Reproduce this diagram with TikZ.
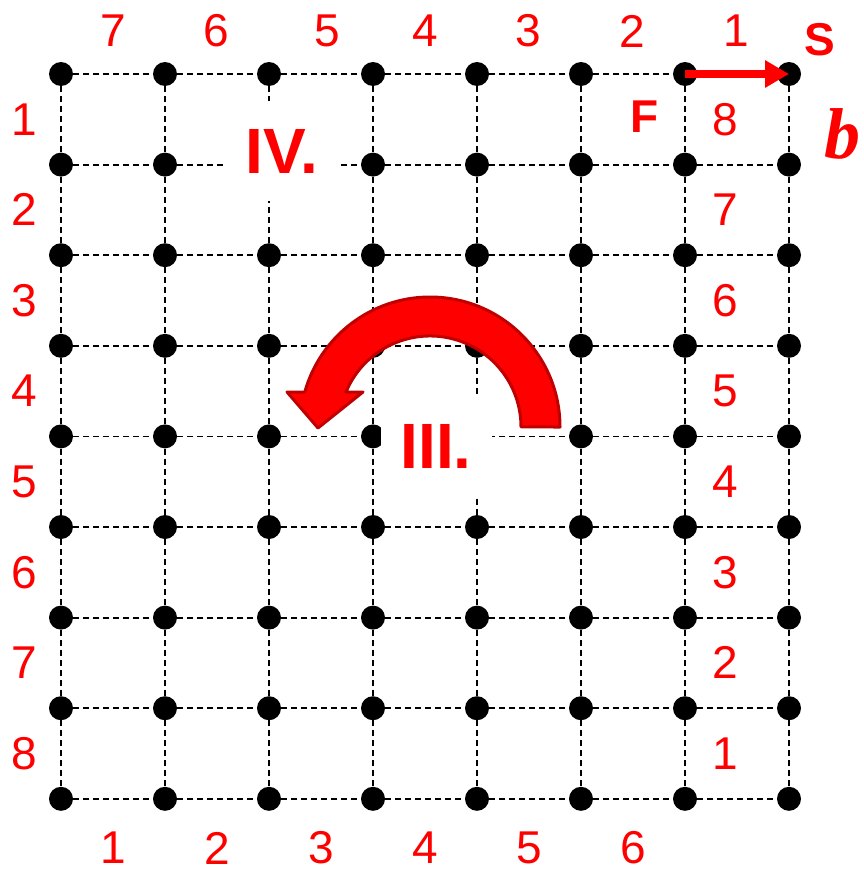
\documentclass[tikz,border=0pt]{standalone}
\usepackage{fontspec}
\setmainfont{Liberation Sans}
\newfontfamily\serifbi{Liberation Serif}
\usepackage{tikz}
\usetikzlibrary{arrows.meta}
\usepackage{xcolor}
\definecolor{arrowedge}{HTML}{C00000}

\begin{document}
\begin{tikzpicture}[
    x=1pt, y=-1pt,
    dot/.style={circle, fill=black, inner sep=0pt, minimum size=24pt},
    grid/.style={black, line width=1.8pt, dash pattern=on 6pt off 4pt},
    num/.style={text=red, inner sep=0pt, font=\fontsize{46}{50}\selectfont},
    letter/.style={text=red, inner sep=0pt, font=\bfseries\fontsize{46}{50}\selectfont},
    region/.style={fill=white, text=red, inner sep=0pt, minimum width=111pt, minimum height=100pt, font=\bfseries\fontsize{64}{70}\selectfont},
    bigarrow/.style={fill=red, draw=arrowedge, line width=3pt, line join=round},
    shiftarrow/.style={red, line width=8pt, -{Triangle[length=24pt, width=26pt]}},
]
\useasboundingbox (0,0) rectangle (863,870);
\foreach \i in {0,...,7}
  \foreach \j in {0,...,8}
    \node[dot] (p-\i-\j) at ({61+104*\i},{74+90.6*\j}) {};
\foreach \i in {0,...,7}
  \foreach \j [count=\k] in {0,...,7}
    \draw[grid] (p-\i-\j) -- (p-\i-\k);
\foreach \j in {0,...,8}
  \foreach \i [count=\k] in {0,...,6}
    \draw[grid] (p-\i-\j) -- (p-\k-\j);
\node[region] (four) at (282,151) {IV.};
\node[region] (three) at (436,446) {III.};
\draw[bigarrow] (560,427) arc[start angle=0, end angle=-164.4, radius=130]
  -- (287,392) -- (318,428) -- (363,392) -- (346,392)
  arc[start angle=-157.4, end angle=0, radius=91] -- cycle;
\draw[shiftarrow] (p-6-0.center) -- (p-7-0.center);
\foreach \n/\x in {7/113,6/216,5/327,4/425,3/528,2/632,1/736}
  \node[num] (top-\n) at (\x,31) {\n};
\foreach \n in {1,...,8}
  \node[num] (left-\n) at (24,{74+90.6*(\n-0.5)}) {\n};
\foreach \n in {1,...,8}
  \node[num] (right-\n) at (725,{74+90.6*(8.5-\n)}) {\n};
\foreach \n in {1,...,6}
  \node[num] (bottom-\n) at ({61+104*(\n-0.5)},848) {\n};
\node[letter] (start) at (820,40) {S};
\node[letter] (finish) at (645,117) {F};
\node[text=red, inner sep=0pt, font=\serifbi\bfseries\itshape\fontsize{72}{80}\selectfont] (vec) at (842,134) {b};
\end{tikzpicture}
\end{document}
